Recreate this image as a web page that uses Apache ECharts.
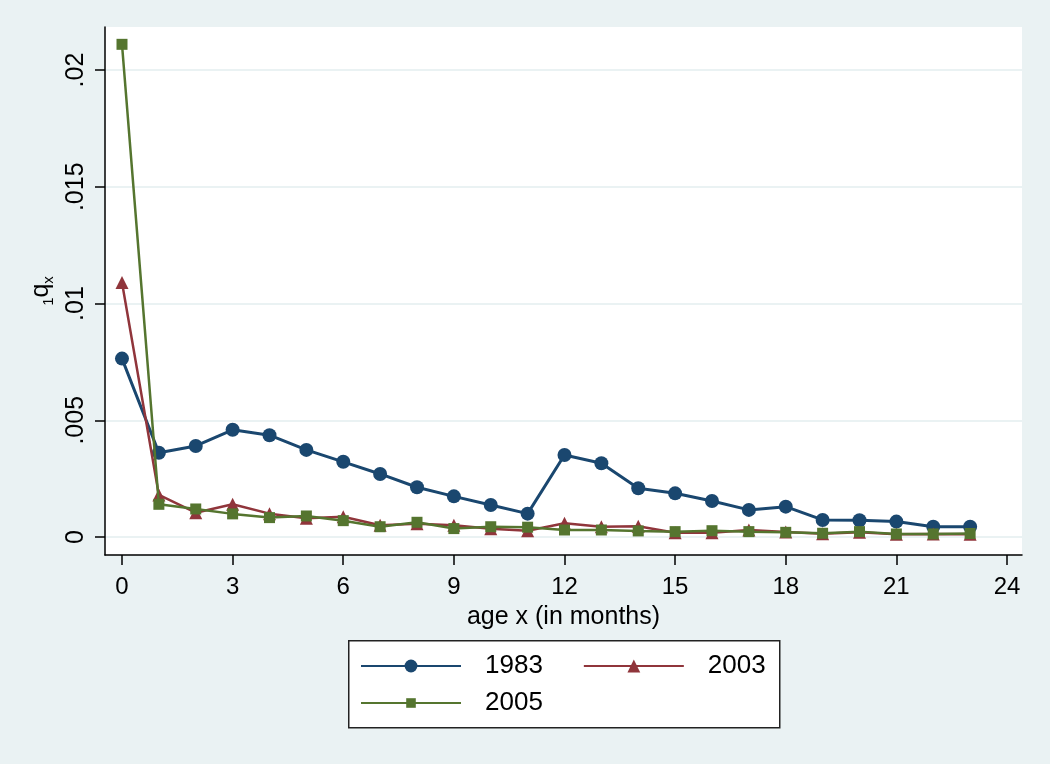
<!DOCTYPE html>
<html>
<head>
<meta charset="utf-8">
<script src="https://cdn.jsdelivr.net/npm/echarts@6/dist/echarts.min.js"></script>
<style>html,body{margin:0;padding:0;background:#EAF2F3;}#chart{width:1050px;height:764px;}</style>
</head>
<body>
<div id="chart"></div>
<script>
// ---- data ----
const ages = [0,1,2,3,4,5,6,7,8,9,10,11,12,13,14,15,16,17,18,19,20,21,22,23];
const q1983 = [0.00764,0.00361,0.0039,0.00459,0.00436,0.00373,0.00322,0.0027,0.00213,0.00174,0.00137,0.00100,0.00351,0.00316,0.00209,0.00187,0.00154,0.00116,0.0013,0.00073,0.00072,0.00066,0.00044,0.00044];
const q2003 = [0.0109,0.0018,0.00104,0.0014,0.001,0.0008,0.00087,0.0005,0.00057,0.0005,0.00035,0.00027,0.00059,0.00044,0.00046,0.00018,0.00018,0.0003,0.00021,0.00014,0.0002,0.00012,0.00013,0.00012];
const q2005 = [0.0211,0.0014,0.0012,0.00099,0.00083,0.0009,0.0007,0.00044,0.00063,0.00036,0.00044,0.00042,0.0003,0.0003,0.00026,0.00023,0.00027,0.00023,0.0002,0.00016,0.00023,0.00013,0.00013,0.00015];
const seriesNames = ['1983','2003','2005'];
const xTicks = [0,3,6,9,12,15,18,21,24];
const yTicks = [0,0.005,0.01,0.015,0.02];
const yTickLabels = ['0','.005','.01','.015','.02'];
const xTitle = 'age x (in months)';

const colors = ['#1A476F','#90353B','#55752F'];
const font = 'Liberation Sans, Arial, sans-serif';

function pairs(vals){ return ages.map((a,i)=>[a, vals[i]]); }

const chart = echarts.init(document.getElementById('chart'), null, {renderer:'canvas'});
const option = {
  backgroundColor: '#EAF2F3',
  animation: false,
  textStyle: {fontFamily: font},
  grid: {left:105, right:28, top:27, bottom:209, show:true, backgroundColor:'#ffffff', borderWidth:0},
  xAxis: {
    type:'value', min:-0.461, max:24.407,
    axisLine:{onZero:false, lineStyle:{color:'#000', width:1.5}},
    axisTick:{customValues:xTicks, length:10, lineStyle:{color:'#000', width:1.5}},
    axisLabel:{customValues:xTicks, fontSize:24, color:'#000', margin:20, fontFamily:font},
    splitLine:{show:false},
    name:xTitle, nameLocation:'middle', nameGap:50,
    nameTextStyle:{fontSize:25, color:'#000', fontFamily:font}
  },
  yAxis: {
    type:'value', min:-0.000771, max:0.021842,
    axisLine:{onZero:false, lineStyle:{color:'#000', width:1.5}},
    axisTick:{customValues:yTicks, length:10, lineStyle:{color:'#000', width:1.5}},
    axisLabel:{customValues:yTicks, rotate:90, fontSize:25, color:'#000', margin:16, fontFamily:font,
      formatter:(v)=>{ const i = yTicks.findIndex(t=>Math.abs(t-v)<1e-9); return i>=0 ? yTickLabels[i] : ''; }},
    splitLine:{show:true, lineStyle:{color:'#EAF2F3', width:2}},
    name:'{s|1}{q|q}{x|x}', nameLocation:'middle', nameGap:46, nameRotate:90,
    nameTextStyle:{color:'#000', fontFamily:font, rich:{
      s:{fontSize:15, color:'#000', fontFamily:font, verticalAlign:'bottom', lineHeight:30},
      q:{fontSize:25, color:'#000', fontFamily:font, lineHeight:30},
      x:{fontSize:15, color:'#000', fontFamily:font, verticalAlign:'bottom', lineHeight:30}
    }}
  },
  legend: [
    {data:[seriesNames[0], seriesNames[1]], left:360, top:653, padding:0, itemWidth:100, itemHeight:16, itemGap:40,
     textStyle:{fontSize:26, color:'#000', fontFamily:font, padding:[0,0,0,19]}, lineStyle:{width:2}, z:10, selectedMode:false},
    {data:[seriesNames[2]], left:360, top:690, padding:0, itemWidth:100, itemHeight:12, itemGap:40,
     textStyle:{fontSize:26, color:'#000', fontFamily:font, padding:[0,0,0,19]}, lineStyle:{width:2}, z:10, selectedMode:false}
  ],
  graphic: [
    {type:'rect', left:348, top:640, shape:{width:431, height:87}, style:{fill:'#fff', stroke:'#222', lineWidth:1.5}, z:1}
  ],
  series: [
    {name:seriesNames[0], type:'line', data:pairs(q1983), symbol:'circle', symbolSize:14,
     lineStyle:{color:colors[0], width:3}, itemStyle:{color:colors[0]}, z:2},
    {name:seriesNames[1], type:'line', data:pairs(q2003), symbol:'triangle', symbolSize:13,
     lineStyle:{color:colors[1], width:2.5}, itemStyle:{color:colors[1]}, z:3},
    {name:seriesNames[2], type:'line', data:pairs(q2005), symbol:'rect', symbolSize:11,
     lineStyle:{color:colors[2], width:2.5}, itemStyle:{color:colors[2]}, z:4}
  ]
};
chart.setOption(option);
</script>
</body>
</html>
